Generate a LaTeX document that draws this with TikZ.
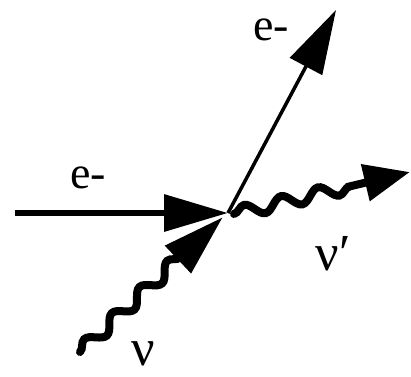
\documentclass[tikz,border=0pt]{standalone}
\usepackage{fontspec}
\setmainfont{Liberation Serif}
\usetikzlibrary{arrows.meta,decorations.pathmorphing}
\begin{document}
\begin{tikzpicture}[x=1pt,y=-1pt,
  lbl/.style={inner sep=0pt,font=\fontsize{46}{48}\selectfont},
  nulbl/.style={inner sep=0pt,anchor=base,font=\fontsize{52}{54}\selectfont},
  fermion/.style={line width=#1,-{Triangle[length=64pt,width=36pt]}},
  boson/.style={line width=8pt,line cap=round,decorate,
    decoration={snake,segment length=38pt,amplitude=6.5pt,post length=52pt}},
]
\useasboundingbox (0,0) rectangle (411,376);
\coordinate (vtx) at (228,213);
\coordinate (ein) at (15,213);
\coordinate (eout) at (336,10);
\coordinate (nuin) at (80,352);
\coordinate (nuout) at (410,172);
\coordinate (vtxo) at (234,214);
\coordinate (vtxi) at (223,217);
\draw[fermion=6.5pt] (ein) -- (vtx);
\draw[fermion=3.5pt] (vtx) -- (eout);
\draw[boson,-{Triangle[length=62pt,width=36pt]}] (nuin) -- (vtxi);
\draw[boson,decoration={post length=48pt},-{Triangle[length=46pt,width=36pt]}] (vtxo) -- (nuout);
\node[lbl] (e1) at (88,178) {e-};
\node[lbl] (e2) at (271,30) {e-};
\node[nulbl] (nu) at (143,365) {ν};
\node[nulbl] (nup) at (333,270) {ν′};
\end{tikzpicture}
\end{document}
